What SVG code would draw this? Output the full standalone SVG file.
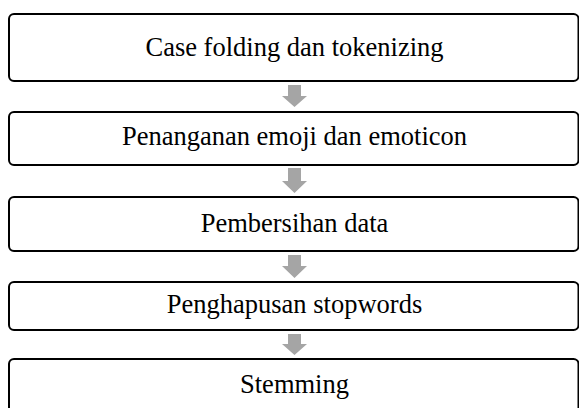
<svg xmlns="http://www.w3.org/2000/svg" width="579" height="408" viewBox="0 0 579 408">
<style>
.box{fill:#ffffff;stroke:#000000;stroke-width:2}
.lbl{font-family:"Liberation Serif","Times New Roman",serif;font-size:26.5px;fill:#000000;text-anchor:middle}
.arr{fill:#a5a5a5;stroke:none}
</style>
<rect width="579" height="408" fill="#ffffff"/>
<g id="connectors">
<path class="arr" d="M288,85 H301 V96 H307 L294.5,107 L282,96 H288 Z"/>
<path class="arr" d="M288,168 H301 V181 H307 L294.5,193 L282,181 H288 Z"/>
<path class="arr" d="M288,255 H301 V266 H307 L294.5,278 L282,266 H288 Z"/>
<path class="arr" d="M288,334 H301 V344 H307 L294.5,355 L282,344 H288 Z"/>
</g>
<g id="n1">
<rect class="box" x="9" y="14" width="569.5" height="67" rx="5"/>
<text class="lbl" x="294.5" y="56">Case folding dan tokenizing</text>
</g>
<g id="n2">
<rect class="box" x="9" y="112" width="569.5" height="53" rx="5"/>
<text class="lbl" x="294.5" y="145">Penanganan emoji dan emoticon</text>
</g>
<g id="n3">
<rect class="box" x="9" y="197" width="569.5" height="54" rx="5"/>
<text class="lbl" x="294.5" y="232">Pembersihan data</text>
</g>
<g id="n4">
<rect class="box" x="9" y="282" width="569.5" height="48" rx="5"/>
<text class="lbl" x="294.5" y="313">Penghapusan stopwords</text>
</g>
<g id="n5">
<rect class="box" x="9" y="359" width="569.5" height="60" rx="5"/>
<text class="lbl" x="294.5" y="393">Stemming</text>
</g>
</svg>
